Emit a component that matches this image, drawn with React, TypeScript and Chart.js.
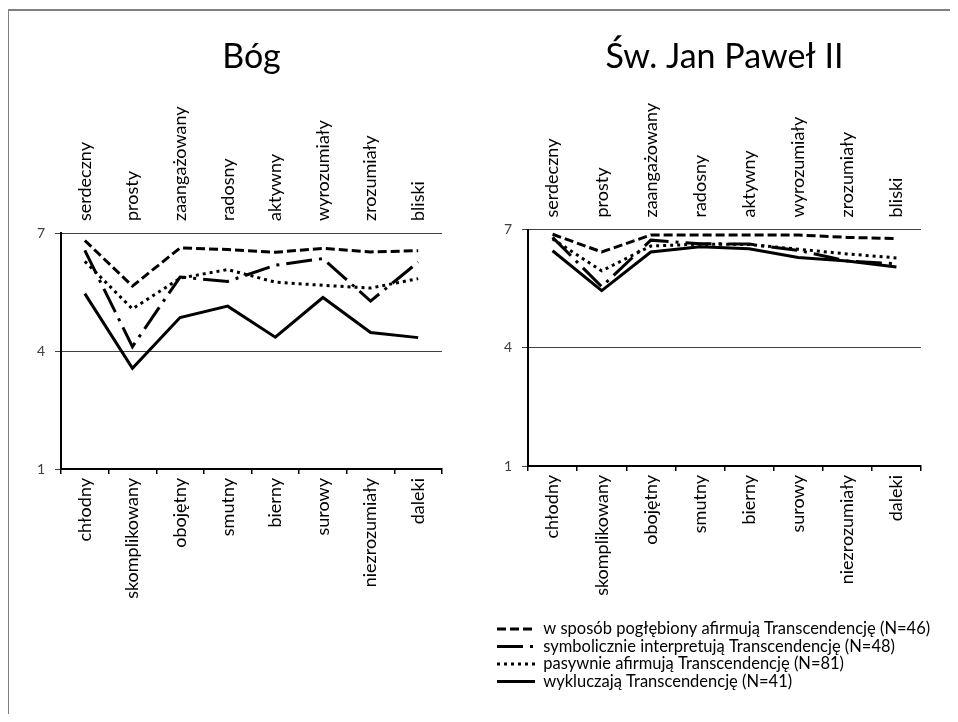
import React, { useEffect, useRef } from 'react';
import { Chart, registerables } from 'chart.js';

Chart.register(...registerables);

const FONT = 'Lato';

// Category labels
const topLabels = ['serdeczny', 'prosty', 'zaangażowany', 'radosny', 'aktywny', 'wyrozumiały', 'zrozumiały', 'bliski'];
const bottomLabels = ['chłodny', 'skomplikowany', 'obojętny', 'smutny', 'bierny', 'surowy', 'niezrozumiały', 'daleki'];

// Series names
const seriesNames = [
  'w sposób pogłębiony afirmują Transcendencję (N=46)',
  'symbolicznie interpretują Transcendencję (N=48)',
  'pasywnie afirmują Transcendencję (N=81)',
  'wykluczają Transcendencję (N=41)',
];

// Bóg
const bogPoglebiony = [6.81, 5.65, 6.62, 6.58, 6.51, 6.61, 6.52, 6.55];
const bogSymbolicznie = [6.56, 4.11, 5.88, 5.77, 6.18, 6.35, 5.27, 6.26];
const bogPasywnie = [6.28, 5.07, 5.85, 6.07, 5.75, 5.67, 5.6, 5.84];
const bogWykluczaja = [5.46, 3.56, 4.85, 5.14, 4.35, 5.36, 4.47, 4.34];

// Św. Jan Paweł II
const jp2Poglebiony = [6.88, 6.43, 6.86, 6.86, 6.86, 6.86, 6.8, 6.77];
const jp2Symbolicznie = [6.8, 5.55, 6.73, 6.64, 6.63, 6.47, 6.2, 6.13];
const jp2Pasywnie = [6.76, 5.95, 6.58, 6.63, 6.62, 6.5, 6.38, 6.28];
const jp2Wykluczaja = [6.46, 5.45, 6.43, 6.56, 6.51, 6.29, 6.2, 6.05];

const yMin = 1;
const yMax = 7;
const yStep = 3;

const dashes = [[9, 4], [26, 7, 3, 7], [3, 4], []];

const LABEL_SIZE = 18;
const TITLE_SIZE = 34;
const LEGEND_SIZE = 16.5;

type Layout = {
  title: string;
  series: number[][];
  showLegend: boolean;
  yWidth: number;
  rightGap: number;
  padBottom: number;
  topAxisH: number;
  bottomAxisH: number;
};

function buildConfig(l: Layout): any {
  return {
    type: 'line',
    data: {
      labels: bottomLabels,
      datasets: l.series.map((s, i) => ({
        label: seriesNames[i],
        data: s,
        borderColor: '#000',
        backgroundColor: '#000',
        borderWidth: 3,
        borderDash: dashes[i],
        borderCapStyle: 'butt',
        borderJoinStyle: 'miter',
        pointRadius: 0,
        tension: 0,
        fill: false,
      })),
    },
    options: {
      animation: false,
      responsive: false,
      maintainAspectRatio: false,
      events: [],
      layout: { padding: { left: 0, right: 0, top: 0, bottom: l.padBottom } },
      plugins: {
        tooltip: { enabled: false },
        title: {
          display: true,
          text: l.title,
          fullSize: false,
          color: '#000',
          font: { family: FONT, size: TITLE_SIZE, weight: 'normal' },
          padding: { top: 26.6, bottom: 10 },
        },
        legend: {
          display: l.showLegend,
          position: 'bottom',
          align: 'start',
          labels: {
            usePointStyle: true,
            pointStyle: 'line',
            pointStyleWidth: 38,
            color: '#000',
            padding: 1,
            font: { family: FONT, size: LEGEND_SIZE },
            generateLabels: (chart: any) =>
              Chart.defaults.plugins.legend.labels.generateLabels(chart).map((item: any, i: number) => ({
                ...item,
                lineDash: dashes[i],
                lineWidth: 3,
                strokeStyle: '#000',
                fillStyle: '#000',
                lineCap: 'butt',
              })),
          },
        },
      },
      scales: {
        x: {
          type: 'category',
          position: 'bottom',
          offset: true,
          afterFit: (s: any) => { s.height = l.bottomAxisH; },
          grid: {
            display: true,
            offset: true,
            drawOnChartArea: false,
            drawTicks: true,
            tickLength: 5,
            color: '#000',
            lineWidth: 1.5,
          },
          border: { display: true, color: '#000', width: 2 },
          ticks: {
            autoSkip: false,
            minRotation: 90,
            maxRotation: 90,
            padding: 4,
            color: '#000',
            font: { family: FONT, size: LABEL_SIZE },
          },
        },
        xTop: {
          type: 'category',
          position: 'top',
          labels: topLabels,
          offset: true,
          afterFit: (s: any) => { s.height = l.topAxisH; },
          grid: { display: false },
          border: { display: false },
          ticks: {
            autoSkip: false,
            minRotation: 90,
            maxRotation: 90,
            padding: 4,
            labelOffset: LABEL_SIZE * 1.2,
            color: '#000',
            font: { family: FONT, size: LABEL_SIZE },
          },
        },
        y: {
          min: yMin,
          max: yMax,
          afterFit: (s: any) => { s.width = l.yWidth; },
          ticks: {
            stepSize: yStep,
            padding: 10,
            color: '#404040',
            font: { family: FONT, size: 14 },
          },
          grid: { color: '#404040', lineWidth: 1, tickLength: 6 },
          border: { display: true, color: '#000', width: 2 },
        },
        yGap: {
          type: 'linear',
          position: 'right',
          display: true,
          min: yMin,
          max: yMax,
          afterFit: (s: any) => { s.width = l.rightGap; },
          grid: { display: false },
          border: { display: false },
          ticks: { display: false },
        },
      },
    },
  };
}

function ChartBox(props: { layout: Layout; width: number; height: number; left: number; top: number }) {
  const ref = useRef<HTMLCanvasElement | null>(null);
  useEffect(() => {
    if (!ref.current) return;
    const chart = new Chart(ref.current, buildConfig(props.layout));
    return () => chart.destroy();
  }, []);
  return (
    <canvas
      ref={ref}
      width={props.width}
      height={props.height}
      style={{ position: 'absolute', left: props.left, top: props.top, width: props.width, height: props.height }}
    />
  );
}

export default function App() {
  const leftLayout: Layout = {
    title: 'Bóg',
    series: [bogPoglebiony, bogSymbolicznie, bogPasywnie, bogWykluczaja],
    showLegend: false,
    yWidth: 51,
    rightGap: 23,
    padBottom: 0,
    topAxisH: 145.6,
    bottomAxisH: 141,
  };
  const rightLayout: Layout = {
    title: 'Św. Jan Paweł II',
    series: [jp2Poglebiony, jp2Symbolicznie, jp2Pasywnie, jp2Wykluczaja],
    showLegend: true,
    yWidth: 32,
    rightGap: 35,
    padBottom: 10.25,
    topAxisH: 142.1,
    bottomAxisH: 153.75,
  };
  return (
    <div style={{ position: 'relative', width: 942, height: 706, fontFamily: FONT }}>
      <div
        style={{
          position: 'absolute',
          left: -1,
          top: 1,
          width: 948,
          height: 710,
          borderLeft: '2px solid #7f7f7f',
          borderTop: '2px solid #7f7f7f',
        }}
      />
      <ChartBox layout={leftLayout} width={455} height={600} left={2} top={2} />
      <ChartBox layout={rightLayout} width={460} height={700} left={488} top={2} />
    </div>
  );
}
